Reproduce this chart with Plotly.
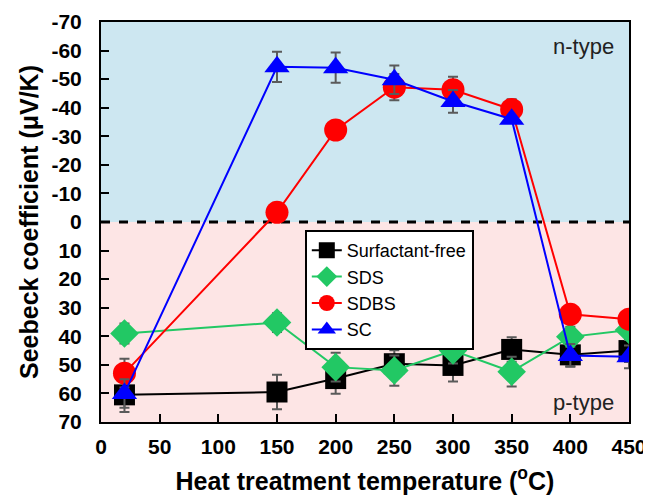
import plotly.graph_objects as go

temps = [20, 150, 200, 250, 300, 350, 400, 450]

free_vals = [60.5, 59.5, 54.8, 49.6, 50.2, 44.6, 46.5, 45.0]
free_err = [6.0, 6.0, 5.3, 4.7, 5.6, 4.3, 4.0, 4.0]

sds_vals = [39.0, 35.2, 50.8, 52.0, 45.0, 52.4, 40.2, 37.8]
sds_err = [3.5, 3.3, 5.0, 5.3, 4.5, 5.2, 3.5, 3.5]

sdbs_vals = [52.9, -3.4, -32.2, -47.2, -46.3, -39.4, 32.3, 34.0]
sdbs_err = [5.0, 0.0, 0.0, 4.6, 4.5, 3.6, 0.0, 0.0]

sc_vals = [60.0, -54.3, -54.0, -49.8, -42.2, -36.0, 46.7, 47.2]
sc_err = [5.0, 5.3, 5.3, 5.0, 4.0, 0.0, 4.0, 4.0]

series_names = ["Surfactant-free", "SDS", "SDBS", "SC"]

y_ticks = [-70, -60, -50, -40, -30, -20, -10, 0, 10, 20, 30, 40, 50, 60, 70]
y_ticktext = [str(v) for v in y_ticks]
x_ticks = [0, 50, 100, 150, 200, 250, 300, 350, 400, 450]

FONT = "Liberation Sans, Arial, sans-serif"
ERR_COLOR = "#5a5a5a"

styles = [
    dict(color="#000000", symbol="square", size=21),
    dict(color="#22C864", symbol="diamond", size=22),
    dict(color="#FF0000", symbol="circle", size=23),
    dict(color="#0000FF", symbol="triangle-up", size=22),
]
data = [(free_vals, free_err), (sds_vals, sds_err), (sdbs_vals, sdbs_err), (sc_vals, sc_err)]

fig = go.Figure()
for name, (vals, errs), st in zip(series_names, data, styles):
    fig.add_trace(go.Scatter(
        x=temps, y=vals, name=name, mode="lines+markers",
        line=dict(color=st["color"], width=2),
        marker=dict(color=st["color"], symbol=st["symbol"], size=st["size"],
                    line=dict(width=0)),
        error_y=dict(type="data", array=errs, visible=True, color=ERR_COLOR,
                     thickness=2, width=5),
    ))

fig.add_shape(type="rect", xref="paper", yref="y", x0=0, x1=1, y0=-70, y1=0,
              fillcolor="#CDE7F1", line=dict(width=0), layer="below")
fig.add_shape(type="rect", xref="paper", yref="y", x0=0, x1=1, y0=0, y1=70,
              fillcolor="#FDE5E5", line=dict(width=0), layer="below")
fig.add_shape(type="line", xref="paper", yref="y", x0=0, x1=1, y0=0, y1=0,
              line=dict(color="black", width=3, dash="dash"), layer="below")

fig.add_annotation(text="n-type", xref="paper", yref="y", x=0.975, y=-61.5,
                   xanchor="right", yanchor="middle", showarrow=False,
                   font=dict(family=FONT, size=22, color="#222222"))
fig.add_annotation(text="p-type", xref="paper", yref="y", x=0.975, y=63,
                   xanchor="right", yanchor="middle", showarrow=False,
                   font=dict(family=FONT, size=22, color="#222222"))

# page body has an 8px default margin, so the figure is sized to fit the window
fig.update_layout(
    width=643, height=494,
    margin=dict(l=93, r=22, t=14, b=80, autoexpand=False),
    paper_bgcolor="white", plot_bgcolor="white",
    font=dict(family=FONT, color="black"),
    showlegend=True,
    legend=dict(x=0.386, y=0.48, xanchor="left", yanchor="top",
                bgcolor="white", bordercolor="black", borderwidth=2,
                font=dict(family=FONT, size=18, color="black"),
                tracegroupgap=0),
    xaxis=dict(range=[0, 450], tickvals=x_ticks, ticks="inside", ticklen=8,
               tickwidth=2, tickcolor="black", showline=True, linecolor="black",
               linewidth=2, mirror=True, showgrid=False, zeroline=False,
               ticklabelstandoff=5, automargin=False,
               tickfont=dict(family=FONT, size=21, weight="bold", color="black"),
               title=dict(text="Heat treatment temperature (<sup>o</sup>C)",
                          font=dict(family=FONT, size=25, weight="bold", color="black"),
                          standoff=15)),
    yaxis=dict(range=[70, -70], tickvals=y_ticks, ticktext=y_ticktext,
               ticks="inside", ticklen=8, tickwidth=2, tickcolor="black",
               showline=True, linecolor="black", linewidth=2, mirror=True,
               showgrid=False, zeroline=False, ticklabelstandoff=13,
               automargin=False,
               tickfont=dict(family=FONT, size=21, weight="bold", color="black"),
               title=dict(text="Seebeck coefficient (μV/K)",
                          font=dict(family=FONT, size=25, weight="bold", color="black"),
                          standoff=6)),
)

fig.write_html("out.html")
